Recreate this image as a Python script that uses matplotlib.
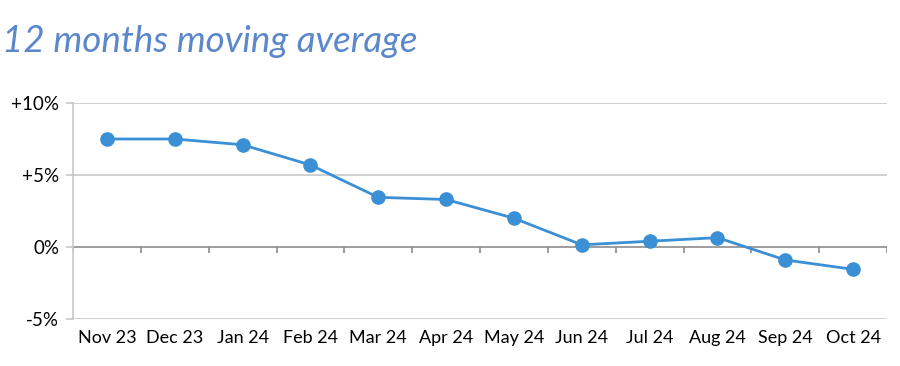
import numpy as np
import matplotlib.pyplot as plt

months = ["Nov 23", "Dec 23", "Jan 24", "Feb 24", "Mar 24", "Apr 24",
          "May 24", "Jun 24", "Jul 24", "Aug 24", "Sep 24", "Oct 24"]
values = [7.5, 7.5, 7.1, 5.7, 3.45, 3.3, 2.0, 0.15, 0.4, 0.65, -0.9, -1.55]
yticks = [-5, 0, 5, 10]
ytick_labels = ["-5%", "0%", "+5%", "+10%"]

line_color = "#3A8FD5"
grid_color = "#C8C8C8"
axis_color = "#8C8C8C"

plt.rcParams['font.family'] = ['Lato', 'DejaVu Sans']

fig = plt.figure(figsize=(9, 3.66), dpi=100)
ax = fig.add_axes([73/900, 1-319/366, (887-73)/900, (319-103)/366])

x = np.arange(len(months))
ax.plot(x, values, color=line_color, linewidth=2.0, marker='o',
        markersize=9.5, zorder=3)

ax.set_xlim(-0.5, len(months) - 0.5)
ax.set_ylim(-5, 10)

# gridlines
for y in yticks:
    if y != 0:
        ax.axhline(y, color=grid_color, linewidth=1.2, zorder=1)
ax.axhline(0, color=axis_color, linewidth=1.2, zorder=2)
# category boundary ticks on the zero line
bounds = np.arange(len(months) + 1) - 0.5
ax.vlines(bounds, -0.4, 0, color=axis_color, linewidth=1.2, zorder=2)

for s in ['top', 'right', 'bottom']:
    ax.spines[s].set_visible(False)
ax.spines['left'].set_color(grid_color)
ax.spines['left'].set_linewidth(1.2)

ax.set_yticks(yticks)
ax.set_yticklabels(ytick_labels, fontsize=13.5)
ax.tick_params(axis='y', length=5, color=grid_color, width=1.2, pad=5)
ax.set_xticks(x)
ax.set_xticklabels(months, fontsize=13)
ax.tick_params(axis='x', length=0, pad=8)

fig.text(2/900, 1-52/366, "12 months moving average", fontsize=26.5,
         style='italic', color="#5B87CB", ha='left', va='baseline')

fig.savefig("out.png", dpi=100, facecolor="white")
